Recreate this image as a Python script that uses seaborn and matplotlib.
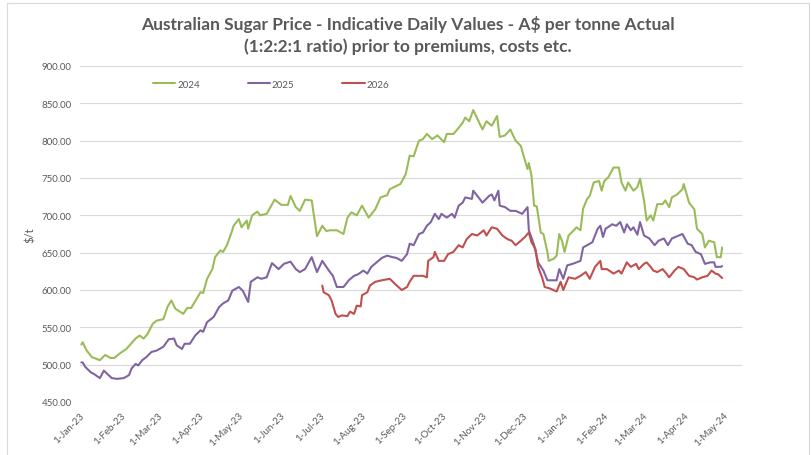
import pandas as pd
import matplotlib
matplotlib.use("Agg")
import matplotlib.pyplot as plt
import matplotlib.dates as mdates
from matplotlib.patches import Rectangle
import seaborn as sns

start = pd.Timestamp("2023-01-01")

# days after 1-Jan-23 and A$/t values
days_2024 = [1, 2, 5, 9, 15, 19, 23, 26, 30, 35, 42, 45, 48, 51, 55, 58, 63, 66, 69, 72,
             78, 81, 84, 88, 91, 93, 96, 100, 102, 106, 108, 111, 115, 116, 120, 122, 126, 127, 130, 134,
             136, 141, 147, 152, 157, 159, 163, 166, 170, 175, 179, 183, 186, 189, 194, 197, 199, 202, 205, 209,
             213, 218, 223, 227, 232, 234, 242, 246, 249, 252, 256, 259, 262, 266, 270, 275, 277, 282, 285, 289,
             291, 294, 297, 301, 304, 307, 311, 315, 317, 321, 325, 329, 333, 335, 338, 339, 341, 343, 345, 348,
             350, 353, 354, 358, 360, 362, 364, 366, 369, 373, 375, 378, 380, 383, 385, 388, 392, 394, 396, 399,
             403, 407, 409, 412, 414, 418, 421, 423, 426, 428, 431, 433, 436, 440, 442, 445, 447, 451, 455, 456,
             460, 464, 466, 470, 472, 475, 479, 481, 484, 485]
price_2024 = [527, 530, 519, 510, 506, 513, 509, 509, 515, 521, 535, 539, 535, 541, 555, 559, 561, 577, 586, 575,
              568, 576, 576, 588, 597, 596, 615, 628, 644, 653, 651, 660, 680, 686, 695, 684, 693, 682, 700, 705,
              700, 702, 721, 714, 714, 726, 711, 706, 721, 720, 672, 686, 679, 680, 680, 677, 675, 697, 704, 700,
              713, 697, 708, 724, 727, 735, 742, 755, 780, 779, 800, 802, 809, 802, 807, 798, 809, 809, 815, 824,
              831, 826, 841, 826, 815, 826, 820, 833, 805, 807, 815, 800, 793, 780, 762, 770, 753, 713, 712, 677,
              675, 651, 639, 642, 646, 675, 666, 651, 673, 680, 684, 680, 709, 722, 726, 744, 746, 733, 746, 751,
              764, 764, 744, 733, 744, 733, 738, 749, 720, 693, 700, 693, 715, 715, 720, 711, 724, 728, 735, 742,
              717, 708, 682, 675, 657, 666, 664, 644, 644, 657]

days_2025 = [1, 2, 4, 8, 11, 15, 18, 21, 24, 28, 33, 37, 39, 42, 44, 47, 50, 54, 58, 63,
             67, 71, 73, 77, 79, 83, 87, 91, 93, 96, 101, 105, 108, 112, 115, 120, 123, 127, 129, 134,
             137, 141, 145, 150, 154, 159, 163, 166, 170, 175, 179, 183, 188, 191, 194, 199, 203, 207, 210, 214,
             217, 220, 224, 228, 232, 236, 239, 243, 247, 249, 252, 256, 259, 262, 265, 268, 271, 273, 277, 281,
             283, 286, 289, 291, 296, 297, 301, 304, 309, 311, 313, 316, 317, 321, 325, 329, 334, 338, 339, 343,
             346, 350, 353, 356, 360, 362, 365, 368, 372, 375, 378, 380, 383, 387, 391, 393, 395, 397, 402, 405,
             408, 411, 413, 416, 418, 421, 423, 426, 430, 434, 437, 441, 444, 447, 451, 455, 459, 462, 465, 469,
             472, 476, 479, 480, 484, 485]
price_2025 = [503, 503, 497, 490, 487, 482, 492, 487, 482, 481, 482, 486, 495, 501, 499, 506, 510, 517, 519, 524,
              534, 535, 526, 521, 528, 528, 539, 546, 544, 557, 564, 577, 582, 586, 599, 604, 599, 584, 611, 617,
              615, 617, 636, 628, 635, 638, 628, 624, 628, 644, 624, 639, 626, 619, 604, 604, 613, 619, 621, 626,
              622, 631, 637, 643, 646, 644, 643, 639, 648, 662, 660, 675, 677, 686, 691, 702, 695, 702, 697, 702,
              697, 713, 717, 724, 722, 733, 724, 717, 726, 728, 720, 733, 713, 711, 706, 706, 702, 711, 680, 660,
              637, 626, 613, 613, 613, 628, 615, 633, 635, 637, 639, 657, 660, 664, 682, 686, 671, 682, 688, 686,
              691, 677, 688, 680, 684, 674, 691, 673, 669, 660, 666, 669, 660, 669, 672, 675, 662, 660, 651, 648,
              635, 637, 637, 631, 631, 632]

days_2026 = [183, 184, 188, 190, 193, 195, 198, 202, 204, 207, 209, 212, 213, 217, 219, 223, 228, 234, 238, 243,
             247, 249, 252, 256, 259, 262, 263, 267, 268, 271, 275, 278, 282, 286, 289, 292, 296, 300, 305, 307,
             311, 315, 319, 323, 326, 329, 333, 336, 339, 341, 344, 346, 349, 351, 355, 360, 363, 365, 369, 374,
             378, 382, 385, 389, 393, 394, 398, 403, 407, 409, 413, 416, 420, 422, 426, 428, 431, 433, 436, 440,
             442, 445, 449, 452, 456, 460, 464, 466, 470, 474, 477, 480, 482, 485]
price_2026 = [606, 597, 593, 586, 568, 564, 566, 565, 571, 568, 579, 578, 593, 597, 606, 611, 613, 615, 608, 600,
              604, 611, 619, 619, 619, 617, 639, 644, 651, 639, 639, 648, 651, 660, 657, 668, 675, 673, 680, 673,
              684, 682, 673, 668, 666, 660, 666, 671, 677, 664, 655, 631, 617, 604, 602, 598, 611, 600, 617, 615,
              619, 624, 615, 631, 639, 628, 628, 622, 626, 622, 637, 631, 635, 628, 635, 637, 631, 626, 624, 628,
              624, 617, 626, 631, 628, 619, 617, 614, 617, 619, 626, 622, 621, 616]

seasons = ["2024", "2025", "2026"]
colors = {"2024": "#9BBB59", "2025": "#8064A2", "2026": "#C0504D"}

frames = []
for season, days, price in zip(seasons, [days_2024, days_2025, days_2026],
                               [price_2024, price_2025, price_2026]):
    frames.append(pd.DataFrame({"date": start + pd.to_timedelta(days, unit="D"),
                                "price": price, "season": season}))
df = pd.concat(frames, ignore_index=True)

sns.set_style("white")
plt.rcParams["font.family"] = ["Lato", "DejaVu Sans"]

fig = plt.figure(figsize=(8.11, 4.56), dpi=100)
ax = fig.add_axes([80 / 811, 1 - 403 / 456, 662 / 811, 336 / 456])

sns.lineplot(data=df, x="date", y="price", hue="season", palette=colors,
             estimator=None, linewidth=1.5, ax=ax)

ax.set_ylim(450, 900)
ax.set_yticks(range(450, 901, 50))
ax.yaxis.set_major_formatter(matplotlib.ticker.FormatStrFormatter("%.2f"))
ax.set_xlim(start, start + pd.Timedelta(days=500))
ax.xaxis.set_major_locator(mdates.MonthLocator(bymonthday=1))
ax.xaxis.set_major_formatter(mdates.DateFormatter("%-d-%b-%y"))
for lab in ax.get_xticklabels():
    lab.set_rotation(45)
    lab.set_ha("right")
    lab.set_rotation_mode("anchor")
ax.tick_params(axis="both", labelsize=7, colors="#595959", length=0)
ax.tick_params(axis="x", pad=6)
ax.tick_params(axis="y", pad=6)
ax.grid(axis="y", color="#d9d9d9", linewidth=0.8)
ax.grid(axis="x", visible=False)
for s in ax.spines.values():
    s.set_visible(False)
ax.set_xlabel("")
ax.set_ylabel("$/t", fontsize=8, color="#595959", labelpad=4)

sns.move_legend(ax, "center left", bbox_to_anchor=(0.097, 0.946), ncol=3, frameon=False,
                title=None, fontsize=7, handlelength=2.3, handletextpad=0.2,
                columnspacing=4.9, labelcolor="#595959")

fig.text(0.503, 0.947, "Australian Sugar Price - Indicative Daily Values - A$ per tonne Actual",
         ha="center", va="center", fontsize=12.5, fontweight="bold", color="#595959")
fig.text(0.503, 0.897, "(1:2:2:1 ratio) prior to premiums, costs etc.",
         ha="center", va="center", fontsize=12.5, fontweight="bold", color="#595959")

fig.patches.append(Rectangle((7 / 811, -0.02), 802 / 811, 1.011, transform=fig.transFigure,
                             fill=False, edgecolor="#d9d9d9", linewidth=0.8))

fig.savefig("out.png", dpi=100)
